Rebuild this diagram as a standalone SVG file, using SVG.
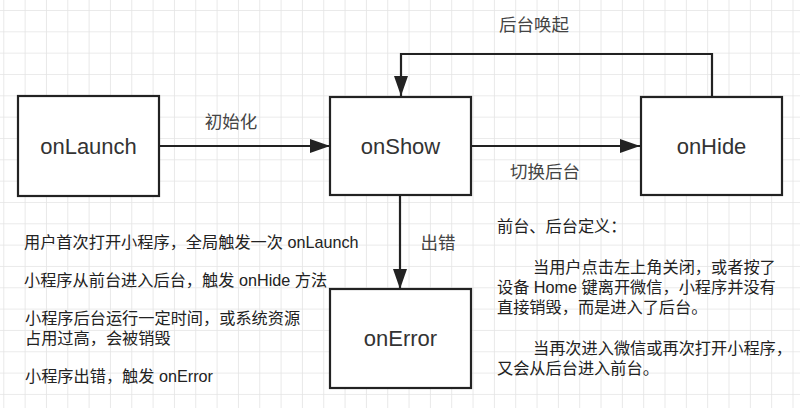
<svg xmlns="http://www.w3.org/2000/svg" width="800" height="408" viewBox="0 0 800 408">
<style>
.box{fill:#fff;stroke:#222;stroke-width:2.2}
.lbl{font-family:"Liberation Sans","Noto Sans CJK SC",sans-serif;font-size:22px;fill:#333;text-anchor:middle}
.edge{fill:none;stroke:#222;stroke-width:2.2}
.et{font-family:"Liberation Sans","Noto Sans CJK SC",sans-serif;font-size:17.5px;fill:#444;text-anchor:middle}
.note{font-family:"Liberation Sans","Noto Sans CJK SC",sans-serif;font-size:16.2px;fill:#222}
</style>
<defs>
<pattern id="grid" patternUnits="userSpaceOnUse" x="3.3" y="10" width="21.33" height="21.33">
<path d="M0 0H21.33M0 0V21.33" fill="none" stroke="#e4e4e4" stroke-width="1.6"/>
</pattern>
<marker id="arr" markerUnits="userSpaceOnUse" markerWidth="22" markerHeight="14" refX="20" refY="7" orient="auto">
<path d="M0 0L20 7L0 14Z" fill="#222"/>
</marker>
</defs>
<rect width="800" height="408" fill="#fff"/>
<rect width="800" height="408" fill="url(#grid)"/>
<g id="connectors">
<path class="edge" d="M159 146H330" marker-end="url(#arr)"/>
<path class="edge" d="M471 146H640" marker-end="url(#arr)"/>
<path class="edge" d="M712 97V54H401V96" marker-end="url(#arr)"/>
<path class="edge" d="M400 195V289" marker-end="url(#arr)"/>
<text class="et" x="231" y="128">初始化</text>
<text class="et" x="534" y="31">后台唤起</text>
<text class="et" x="545" y="178">切换后台</text>
<text class="et" x="438" y="249">出错</text>
</g>
<g id="onLaunch"><rect class="box" x="18" y="96" width="141" height="100"/><text class="lbl" x="88.5" y="154">onLaunch</text></g>
<g id="onShow"><rect class="box" x="330" y="97" width="141" height="98"/><text class="lbl" x="400.5" y="154">onShow</text></g>
<g id="onHide"><rect class="box" x="641" y="97" width="141" height="98"/><text class="lbl" x="711.5" y="154">onHide</text></g>
<g id="onError"><rect class="box" x="330" y="289" width="141" height="99"/><text class="lbl" x="400.5" y="346">onError</text></g>
<g id="notes-left">
<text class="note" x="24" y="248">用户首次打开小程序，全局触发一次 onLaunch</text>
<text class="note" x="24" y="286">小程序从前台进入后台，触发 onHide 方法</text>
<text class="note" x="25" y="324">小程序后台运行一定时间，或系统资源</text>
<text class="note" x="25" y="344">占用过高，会被销毁</text>
<text class="note" x="25" y="382">小程序出错，触发 onError</text>
</g>
<g id="notes-right">
<text class="note" x="497" y="232">前台、后台定义：</text>
<text class="note" x="533" y="273">当用户点击左上角关闭，或者按了</text>
<text class="note" x="497" y="293">设备 Home 键离开微信，小程序并没有</text>
<text class="note" x="497" y="313">直接销毁，而是进入了后台。</text>
<text class="note" x="533" y="354">当再次进入微信或再次打开小程序，</text>
<text class="note" x="497" y="374">又会从后台进入前台。</text>
</g>
</svg>
